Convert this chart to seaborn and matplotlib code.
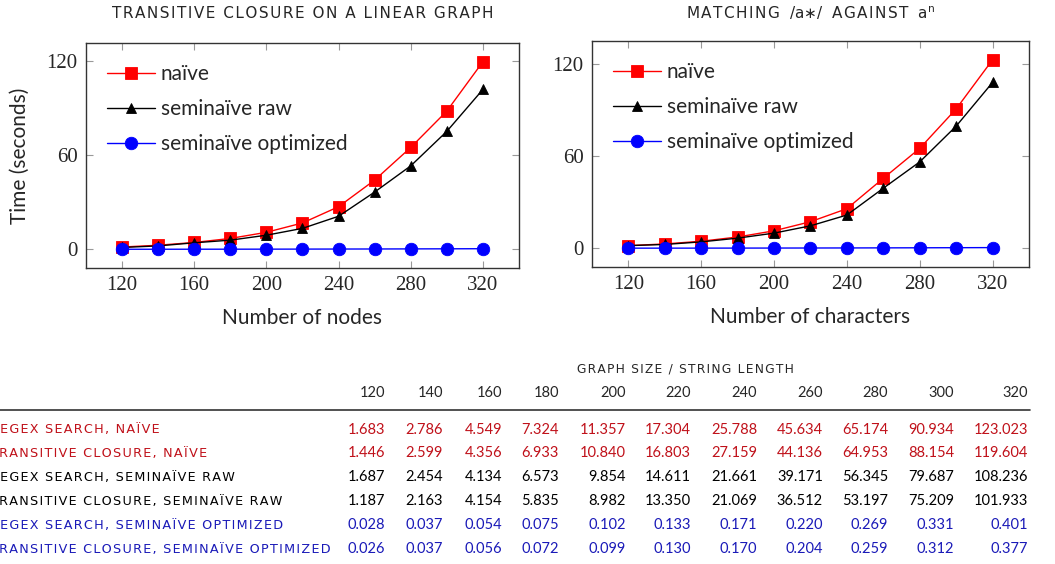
import numpy as np
import pandas as pd
import matplotlib
matplotlib.use('Agg')
import matplotlib.pyplot as plt
import seaborn as sns

sizes = [120, 140, 160, 180, 200, 220, 240, 260, 280, 300, 320]

regex_naive = [1.683, 2.786, 4.549, 7.324, 11.357, 17.304, 25.788, 45.634, 65.174, 90.934, 123.023]
tc_naive = [1.446, 2.599, 4.356, 6.933, 10.840, 16.803, 27.159, 44.136, 64.953, 88.154, 119.604]
regex_raw = [1.687, 2.454, 4.134, 6.573, 9.854, 14.611, 21.661, 39.171, 56.345, 79.687, 108.236]
tc_raw = [1.187, 2.163, 4.154, 5.835, 8.982, 13.350, 21.069, 36.512, 53.197, 75.209, 101.933]
regex_opt = [0.028, 0.037, 0.054, 0.075, 0.102, 0.133, 0.171, 0.220, 0.269, 0.331, 0.401]
tc_opt = [0.026, 0.037, 0.056, 0.072, 0.099, 0.130, 0.170, 0.204, 0.259, 0.312, 0.377]

series_names = ['naïve', 'seminaïve raw', 'seminaïve optimized']
row_labels = ['regex search, naïve', 'transitive closure, naïve',
              'regex search, seminaïve raw', 'transitive closure, seminaïve raw',
              'regex search, seminaïve optimized', 'transitive closure, seminaïve optimized']

sns.set_style('ticks')
plt.rcParams['font.family'] = ['Lato', 'DejaVu Sans']
plt.rcParams['mathtext.fontset'] = 'dejavusans'
SERIF = ['Liberation Serif', 'DejaVu Serif']
CAPS = ['DejaVu Sans']

line_colors = {'naïve': '#ff0000', 'seminaïve raw': '#000000', 'seminaïve optimized': '#0000ff'}
markers = {'naïve': 's', 'seminaïve raw': '^', 'seminaïve optimized': 'o'}
msizes = {'naïve': 9, 'seminaïve raw': 7, 'seminaïve optimized': 9}


def make_df(naive, raw, opt):
    rows = []
    for name, vals in zip(series_names, [naive, raw, opt]):
        for s, v in zip(sizes, vals):
            rows.append({'n': s, 'time': v, 'method': name})
    return pd.DataFrame(rows)


def spaced(s):
    # fake letter spacing for the small caps
    return '\u200a'.join(s.upper())


fig = plt.figure(figsize=(10.55, 5.64), dpi=100)
ax1 = fig.add_axes([0.0815, 0.5248, 0.4104, 0.3989])
ax2 = fig.add_axes([0.5611, 0.5266, 0.4142, 0.4007])

panels = [
    (ax1, make_df(tc_naive, tc_raw, tc_opt), 'Number of nodes'),
    (ax2, make_df(regex_naive, regex_raw, regex_opt), 'Number of characters'),
]

for ax, df, xlabel in panels:
    for name in series_names:
        sub = df[df['method'] == name]
        sns.lineplot(data=sub, x='n', y='time', ax=ax, color=line_colors[name],
                     marker=markers[name], markersize=msizes[name], markeredgewidth=0.6,
                     markeredgecolor=line_colors[name], linewidth=1.0, label=name)
    lo = min(df['time'])
    hi = max(df['time'])
    pad = 0.1 * (hi - lo)
    ax.set_ylim(lo - pad, hi + pad)
    ax.set_xlim(100, 340)
    ax.set_xticks([120, 160, 200, 240, 280, 320])
    ax.set_yticks([0, 60, 120])
    for lab in ax.get_xticklabels() + ax.get_yticklabels():
        lab.set_family(SERIF)
        lab.set_fontsize(15)
    ax.tick_params(direction='in', length=5, width=0.8, color='#999999', top=True, right=True, pad=6)
    for sp in ax.spines.values():
        sp.set_color('#333333')
        sp.set_linewidth(1.0)
    ax.set_xlabel(xlabel, fontsize=15, labelpad=9)
    ax.set_ylabel('')
    ax.legend(loc='upper left', frameon=False, fontsize=15, handlelength=2.3,
              labelspacing=0.72, borderaxespad=0.6, handletextpad=0.3)

ax1.set_ylabel('Time (seconds)', fontsize=15, labelpad=12)

W, H = 1055.0, 564.0
fig.text(303 / W, 1 - 13 / H, spaced('transitive closure on a linear graph'), family=CAPS,
         fontsize=11, ha='center', va='center')
fig.text(810 / W, 1 - 13 / H,
         spaced('matching') + '  /a$\\ast$/  ' + spaced('against') + '  a$^{\\mathrm{n}}$',
         family=CAPS, fontsize=11, ha='center', va='center')

# table below
red_t = '#c0111a'
blue_t = '#1a1ab8'
row_colors = [red_t, red_t, 'black', 'black', blue_t, blue_t]
row_data = [regex_naive, tc_naive, regex_raw, tc_raw, regex_opt, tc_opt]
col_right = [385, 443, 502, 559, 626, 691, 757, 823, 888, 954, 1028]

fig.text(685 / W, 1 - 369 / H, spaced('graph size / string length'), family=CAPS,
         fontsize=8.8, ha='center', va='center')
for s, xr in zip(sizes, col_right):
    fig.text(xr / W, 1 - 393 / H, str(s), fontsize=10.5, ha='right', va='center')
fig.add_artist(plt.Line2D([0, 1030 / W], [1 - 410 / H, 1 - 410 / H], color='#333333', linewidth=1.2))

row_y = [430, 453, 477, 501, 525, 549]
for lab, col, vals, y in zip(row_labels, row_colors, row_data, row_y):
    fig.text(-10 / W, 1 - y / H, spaced(lab), family=CAPS, fontsize=9.2, color=col,
             ha='left', va='center')
    for v, xr in zip(vals, col_right):
        fig.text(xr / W, 1 - y / H, f'{v:.3f}', fontsize=10.5, color=col, ha='right', va='center')

fig.savefig('out.png', dpi=100)
